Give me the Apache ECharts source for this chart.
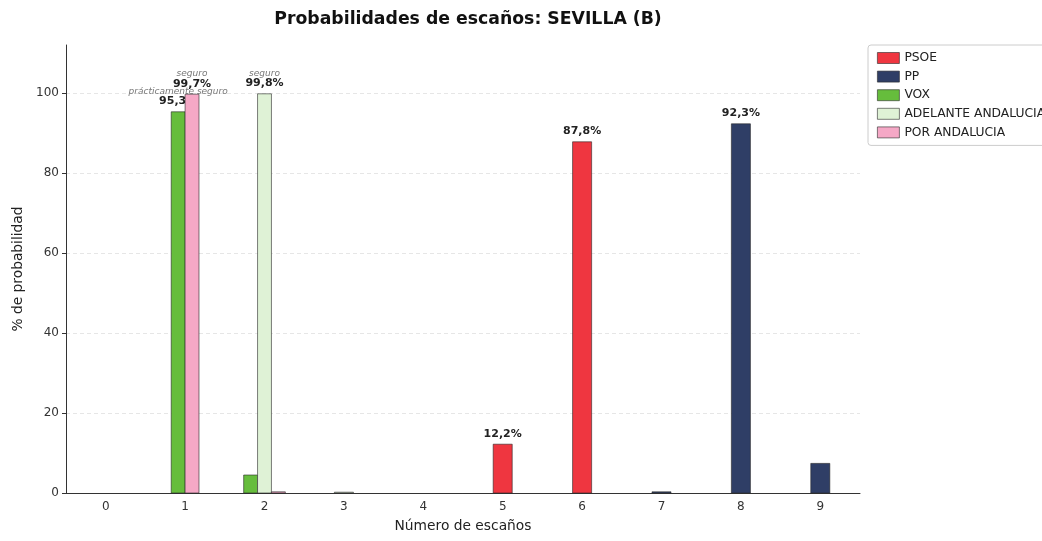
<!DOCTYPE html>
<html>
<head>
<meta charset="utf-8">
<script src="https://cdn.jsdelivr.net/npm/echarts@6/dist/echarts.min.js"></script>
<style>
  html, body { margin: 0; padding: 0; background: #fff; }
  #chart { width: 1042px; height: 541px; }
</style>
</head>
<body>
<div id="chart"></div>
<script>
const seats = ['0', '1', '2', '3', '4', '5', '6', '7', '8', '9']
const parties = ['PSOE', 'PP', 'VOX', 'ADELANTE ANDALUCIA', 'POR ANDALUCIA']
const colors = ['#ef3640', '#2f3e66', '#66bd3c', '#dff2d6', '#f5a8c6']
// probabilidad (%) de obtener n escaños
const psoe = [0, 0, 0, 0, 0, 12.2, 87.8, 0, 0, 0]
const pp = [0, 0, 0, 0, 0, 0, 0, 0.3, 92.3, 7.4]
const vox = [0, 95.3, 4.5, 0, 0, 0, 0, 0, 0, 0]
const adelante = [0, 0, 99.8, 0.2, 0, 0, 0, 0, 0, 0]
const porAndalucia = [0, 99.7, 0.3, 0, 0, 0, 0, 0, 0, 0]
const yTicks = [0, 20, 40, 60, 80, 100]

const seriesData = [psoe, pp, vox, adelante, porAndalucia]
const font = 'DejaVu Sans'

const fmt = (v) => v.toFixed(1).replace('.', ',') + '%'
const note = (v) => {
  if (v >= 99.5) return 'seguro'
  if (v >= 95) return 'prácticamente seguro'
  return ''
}

const renderItem = (params, api) => {
  const seat = api.value(0)
  const val = api.value(1)
  if (!(val > 0)) return
  // partidos con barra en este número de escaños
  const active = []
  seriesData.forEach((arr, i) => { if (arr[seat] > 0) active.push(i) })
  const k = active.indexOf(params.seriesIndex)
  const band = api.size([1, 0])[0]
  const w = band * (active.length === 1 ? 0.24 : 0.175)
  const base = api.coord([seat, 0])
  const top = api.coord([seat, val])
  const cx = base[0] + (k - (active.length - 1) / 2) * w
  const children = [{
    type: 'rect',
    shape: { x: cx - w / 2, y: top[1], width: w, height: base[1] - top[1] },
    style: { fill: colors[params.seriesIndex], stroke: 'rgba(40,40,40,0.75)', lineWidth: 0.8 }
  }]
  if (val >= 10) {
    children.push({
      type: 'text',
      style: {
        x: cx, y: top[1] - 10.5, text: fmt(val), align: 'center', verticalAlign: 'middle',
        font: 'bold 11px "' + font + '"', fill: '#222'
      }
    })
    const n = note(val)
    if (n) {
      children.push({
        type: 'text',
        style: {
          x: cx, y: top[1] - 20.5, text: n, align: 'center', verticalAlign: 'middle',
          font: 'italic 9px "' + font + '"', fill: '#777'
        }
      })
    }
  }
  return { type: 'group', children }
}

const chart = echarts.init(document.getElementById('chart'))
chart.setOption({
  animation: false,
  textStyle: { fontFamily: font },
  title: {
    text: 'Probabilidades de escaños: SEVILLA (B)',
    left: 463, top: 6, textAlign: 'center',
    textStyle: { fontSize: 17.3, fontWeight: 'bold', color: '#111', fontFamily: font }
  },
  legend: {
    orient: 'vertical',
    left: 868, top: 45,
    itemWidth: 22, itemHeight: 11, itemGap: 6.6,
    icon: 'rect',
    padding: [7, 8, 7, 9],
    borderColor: '#ccc', borderWidth: 1, borderRadius: 3,
    itemStyle: { borderColor: 'rgba(40,40,40,0.75)', borderWidth: 0.8 },
    textStyle: { fontSize: 12.3, color: '#222', fontFamily: font },
    data: parties
  },
  grid: { left: 66, right: 182, top: 45, bottom: 48 },
  xAxis: {
    type: 'category',
    data: seats,
    name: 'Número de escaños',
    nameLocation: 'middle',
    nameGap: 26,
    nameTextStyle: { fontSize: 13.8, color: '#222' },
    axisLine: { lineStyle: { color: '#333', width: 1 } },
    axisTick: { alignWithLabel: true, length: 4, lineStyle: { color: '#333' } },
    axisLabel: { fontSize: 12, color: '#333', margin: 8 },
    splitLine: { show: false }
  },
  yAxis: {
    type: 'value',
    min: 0, max: 112,
    name: '% de probabilidad',
    nameLocation: 'middle',
    nameGap: 41,
    nameTextStyle: { fontSize: 13.8, color: '#222' },
    axisLine: { show: true, lineStyle: { color: '#333', width: 1 } },
    axisTick: { show: true, length: 4, customValues: yTicks, lineStyle: { color: '#333' } },
    axisLabel: { fontSize: 12, color: '#333', margin: 7, customValues: yTicks },
    splitLine: { show: true, lineStyle: { color: '#e0e0e0', type: [4, 3], width: 0.8 } }
  },
  series: parties.map((name, i) => ({
    name,
    type: 'custom',
    renderItem,
    itemStyle: { color: colors[i] },
    encode: { x: 0, y: 1 },
    data: seriesData[i].map((v, j) => [j, v])
  }))
})
</script>
</body>
</html>
